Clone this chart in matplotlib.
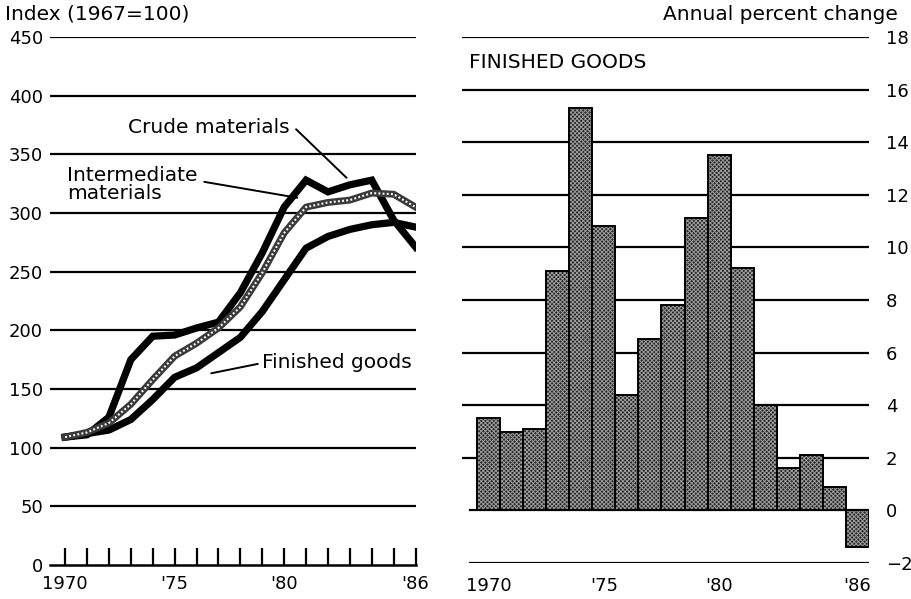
import numpy as np
import matplotlib
matplotlib.use("Agg")
import matplotlib.pyplot as plt

years = list(range(1970, 1987))

# Producer price indexes, 1967=100
crude = [109, 111, 126, 175, 195, 196, 202, 207, 232, 266, 305, 328, 318, 324, 328, 294, 271]
intermediate = [109, 113, 121, 137, 158, 178, 189, 202, 220, 249, 283, 305, 309, 311, 317, 316, 305]
finished = [109, 112, 115, 124, 141, 160, 168, 181, 194, 216, 243, 270, 280, 286, 290, 292, 288]

# Finished goods, annual percent change
pct_change = [3.5, 3.0, 3.1, 9.1, 15.3, 10.8, 4.4, 6.5, 7.8, 11.1, 13.5, 9.2, 4.0, 1.6, 2.1, 0.9, -1.4]

left_ticks = [0, 50, 100, 150, 200, 250, 300, 350, 400, 450]
right_ticks = [-2, 0, 2, 4, 6, 8, 10, 12, 14, 16, 18]
year_labels = {1970: "1970", 1975: "'75", 1980: "'80", 1986: "'86"}

plt.rcParams['font.family'] = ['DejaVu Sans']
plt.rcParams['font.size'] = 13
plt.rcParams['hatch.linewidth'] = 0.7

TXT = 14.5

fig = plt.figure(figsize=(9.12, 5.99), dpi=100)

W, H = 912, 599


def box(x0, y0, x1, y1):
  return [x0 / W, (H - y1) / H, (x1 - x0) / W, (y1 - y0) / H]


# ---------------- left panel ----------------
ax1 = fig.add_axes(box(50, 37, 416, 565))
ax1.set_xlim(1969.31, 1986.02)
ax1.set_ylim(0, 450)
for v in left_ticks[1:]:
  ax1.axhline(v, color="black", lw=1.6, zorder=1)

ax1.plot(years, crude, color="black", lw=5.2, solid_joinstyle="miter", zorder=3)
ax1.plot(years, intermediate, color="#3a3a3a", lw=5.0, zorder=4)
ax1.plot(years, intermediate, color="white", lw=1.5, linestyle=(0, (0.9, 1.1)), zorder=5)
ax1.plot(years, finished, color="black", lw=5.2, zorder=3)

for s in ["top", "right", "left"]:
  ax1.spines[s].set_visible(False)
ax1.spines["bottom"].set_linewidth(1.8)
ax1.set_xticks(years)
ax1.set_xticklabels([year_labels.get(y, "") for y in years])
ax1.tick_params(axis="x", direction="in", length=12, width=1.6, pad=7)
ax1.set_yticks(left_ticks)
ax1.tick_params(axis="y", length=0, pad=5)

fig.text(5 / W, 1 - 14 / H, "Index (1967=100)", ha="left", va="center", fontsize=TXT)

ax1.annotate("Crude materials", xy=(1982.85, 330), xytext=(1976.56, 373),
             ha="center", va="center", fontsize=TXT,
             arrowprops=dict(arrowstyle="-", color="black", lw=1.4,
                             shrinkA=0, shrinkB=0, relpos=(1.04, 0.4)))
ax1.annotate("Intermediate\nmaterials", xy=(1980.6, 313), xytext=(1970.1, 324),
             ha="left", va="center", linespacing=0.95, fontsize=TXT,
             arrowprops=dict(arrowstyle="-", color="black", lw=1.4,
                             shrinkA=0, shrinkB=0, relpos=(1.05, 0.58)))
ax1.annotate("Finished goods", xy=(1976.3, 162), xytext=(1979.0, 173),
             ha="left", va="center", fontsize=TXT,
             arrowprops=dict(arrowstyle="-", color="black", lw=1.4,
                             shrinkA=0, shrinkB=6, relpos=(-0.03, 0.4)))

# ---------------- right panel ----------------
ax2 = fig.add_axes(box(462, 37, 869, 563))
ax2.set_xlim(1968.85, 1986.5)
ax2.set_ylim(-2, 18)
for v in right_ticks:
  ax2.axhline(v, xmin=0.02 if v <= 0 else 0.0, color="black", lw=1.6, zorder=1)

ax2.bar(years, pct_change, width=1.0, color="#262626", edgecolor="#9a9a9a",
        hatch="xxxxxxxx", linewidth=0, zorder=2)
ax2.bar(years, pct_change, width=1.0, fill=False, edgecolor="black",
        linewidth=1.4, zorder=3)

for s in ax2.spines.values():
  s.set_visible(False)
ax2.set_xticks([1970, 1975, 1980, 1986])
ax2.set_xticklabels(["1970", "'75", "'80", "'86"])
ax2.tick_params(axis="x", length=0, pad=10)
ax2.yaxis.tick_right()
ax2.set_yticks(right_ticks)
ax2.set_yticklabels([str(v).replace("-", "\u2212") for v in right_ticks])
ax2.tick_params(axis="y", length=0, pad=12)

fig.text(898 / W, 1 - 15 / H, "Annual percent change", ha="right", va="center", fontsize=TXT)
ax2.text(469 / W, 1 - 63 / H, "FINISHED GOODS", transform=fig.transFigure,
         ha="left", va="center", fontsize=TXT)

fig.savefig("out.png", dpi=100)
